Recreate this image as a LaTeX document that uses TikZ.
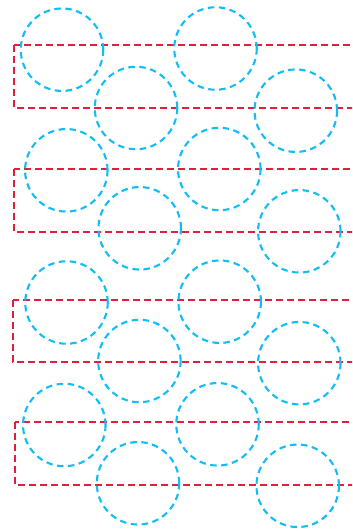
\documentclass[tikz,border=0pt]{standalone}
\definecolor{ringc}{HTML}{10BEF5}
\definecolor{boxc}{HTML}{E31D3E}
\tikzset{
  ring/.style={circle, draw=ringc, line width=2.1bp, dash pattern=on 6.5bp off 4.5bp, minimum size=82.5bp, inner sep=0pt},
  band/.style={draw=boxc, line width=2bp, dash pattern=on 7bp off 4bp}
}
\begin{document}
\begin{tikzpicture}[x=1bp,y=-1bp]
\clip (0,0) rectangle (352,531);
\fill[white] (0,0) rectangle (352,531);
% bands
\draw[band] (14,45) rectangle (372,108);
\draw[band] (14,169) rectangle (372,232);
\draw[band] (13,300) rectangle (372,362);
\draw[band] (15,422) rectangle (372,485);
% rings
\node[ring] (c1) at (62,49.7) {};
\node[ring] (c2) at (136,108) {};
\node[ring] (c3) at (215.5,48.5) {};
\node[ring] (c4) at (295.8,110.7) {};
\node[ring] (c5) at (66.3,170.3) {};
\node[ring] (c6) at (139.7,228.3) {};
\node[ring] (c7) at (219.3,169) {};
\node[ring] (c8) at (299.3,231.3) {};
\node[ring] (c9) at (66.5,302.5) {};
\node[ring] (c10) at (139.4,361) {};
\node[ring] (c11) at (219.7,301.7) {};
\node[ring] (c12) at (299.3,363.2) {};
\node[ring] (c13) at (64.3,425) {};
\node[ring] (c14) at (138,483.3) {};
\node[ring] (c15) at (217.5,424.3) {};
\node[ring] (c16) at (297.7,485.8) {};
\end{tikzpicture}
\end{document}
